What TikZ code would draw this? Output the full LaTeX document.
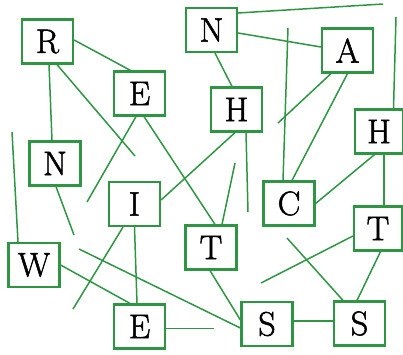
\documentclass[tikz,border=0pt]{standalone}
\usepackage{fontspec}
\newfontfamily\letterfont{Latin Modern Roman}[FakeBold=1.6]
\usetikzlibrary{calc}
\definecolor{wordgreen}{RGB}{46,150,66}
\begin{document}
\begin{tikzpicture}[x=1pt,y=-1pt,
  letterbox/.style={draw=wordgreen,line width=2.2pt,fill=white,minimum width=51pt,
    minimum height=44pt,inner sep=0pt,font=\letterfont\fontsize{34}{34}\selectfont},
  narrowbox/.style={letterbox,minimum width=48pt},
  link/.style={draw=wordgreen,line width=1.5pt}]
\useasboundingbox (0,0) rectangle (403,354);

% letter boxes
\node[letterbox] (R)  at (47.5,41.5)  {R};
\node[letterbox] (E1) at (139.5,93.5) {E};
\node[letterbox] (N1) at (55,163.5)   {N};
\node[letterbox] (N2) at (211.5,30)   {N};
\node[letterbox] (A)  at (347.5,50.5) {A};
\node[letterbox] (H1) at (236.5,109.5){H};
\node[narrowbox] (H2) at (379,131.5)  {H};
\node[letterbox] (I)  at (134.5,204)  {I};
\node[letterbox] (W)  at (34,265)     {W};
\node[letterbox] (E2) at (139.5,326.5){E};
\node[letterbox] (C)  at (289,203.5)  {C};
\node[letterbox] (T1) at (211,247.5)  {T};
\node[narrowbox] (T2) at (378,228.5)  {T};
\node[letterbox] (S1) at (267,324)    {S};
\node[letterbox] (S2) at (359.5,323.5){S};

% loose ends of the connectors
\coordinate (fR)  at (135,156);
\coordinate (fE)  at (87,202);
\coordinate (fW)  at (12,132);
\coordinate (fN)  at (74,235);
\coordinate (fNt) at (383,4);
\coordinate (fC)  at (288,28);
\coordinate (fA)  at (278,123);
\coordinate (fH)  at (396,17);
\coordinate (fH1) at (248,212);
\coordinate (fT)  at (235,163);
\coordinate (fI)  at (73,309);
\coordinate (fS)  at (79,249);
\coordinate (fE2) at (214,328.5);
\coordinate (fS2) at (287,238);
\coordinate (fT2) at (261,283);

% connectors
\path[link] ($(R.east)+(0,-1.5)$) -- ($(E1.north)+(-9,0)$);
\path[link] ($(R.south)+(1.5,0)$) -- ($(N1.north)+(-3,0)$);
\path[link] ($(R.south)+(9.5,0)$) -- (fR);
\path[link] ($(E1.south)+(-3.5,0)$) -- (fE);
\path[link] ($(E1.south)+(4.5,0)$) -- ($(T1.north)+(4,0)$);
\path[link] (fW) -- ($(W.north)+(-16,0)$);
\path[link] ($(N1.south)+(1,0)$) -- (fN);
\path[link] ($(N2.east)+(0,-17)$) -- (fNt);
\path[link] ($(N2.east)+(0,3)$) -- ($(A.west)+(0,-3.5)$);
\path[link] ($(N2.south)+(3.5,0)$) -- ($(H1.north)+(-4.5,0)$);
\path[link] (fC) -- ($(C.north)+(-6,0)$);
\path[link] ($(A.south)+(-16.5,0)$) -- (fA);
\path[link] (A.south) -- ($(C.north)+(3,0)$);
\path[link] (fH) -- ($(H2.north)+(14.5,0)$);
\path[link] ($(H2.south)+(-4.5,0)$) -- (C.east);
\path[link] ($(H2.south)+(5,0)$) -- ($(T2.north)+(6,0)$);
\path[link] ($(H1.south)+(-1.5,0)$) -- ($(I.east)+(0,-4)$);
\path[link] ($(H1.south)+(9.5,0)$) -- (fH1);
\path[link] ($(T1.north)+(11,0)$) -- (fT);
\path[link] ($(I.south)+(-11.5,0)$) -- (fI);
\path[link] (I.south) -- ($(E2.north)+(-2.5,0)$);
\path[link] (W.east) -- ($(E2.north)+(-9.5,0)$);
\path[link] (fS) -- ($(S1.west)+(0,4)$);
\path[link] ($(E2.east)+(0,2)$) -- (fE2);
\path[link] ($(T1.south)+(-1,0)$) -- ($(S1.west)+(0,-4)$);
\path[link] ($(S1.east)+(0,-3)$) -- ($(S2.west)+(0,-2.5)$);
\path[link] (fS2) -- ($(S2.north)+(-16.5,0)$);
\path[link] ($(T2.west)+(0,7.5)$) -- (fT2);
\path[link] ($(T2.south)+(2.5,0)$) -- ($(S2.north)+(-2.5,0)$);
\end{tikzpicture}
\end{document}
